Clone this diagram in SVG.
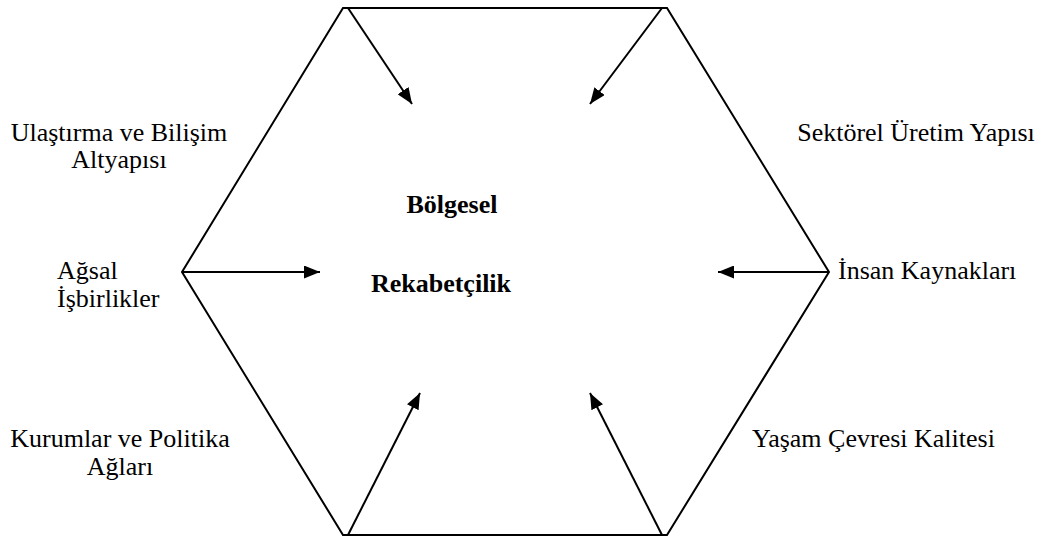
<svg xmlns="http://www.w3.org/2000/svg" width="1050" height="540" viewBox="0 0 1050 540">
<defs>
<style>
.lbl{font-family:'Liberation Serif','Times New Roman',serif;font-size:26px;fill:#000}
.ctr{font-family:'Liberation Serif','Times New Roman',serif;font-size:26px;font-weight:bold;fill:#000;text-anchor:middle}
</style>
<marker id="ah" viewBox="0 0 16 13" refX="16" refY="6.5" markerWidth="16" markerHeight="13" markerUnits="userSpaceOnUse" orient="auto">
<path d="M0,0 L16,6.5 L0,13 z" fill="#000"/>
</marker>
</defs>
<rect width="1050" height="540" fill="#fff"/>
<g id="hexagon">
<polygon points="343,8 667,8 829,272 667,535 343,535 182,272" fill="none" stroke="#000" stroke-width="2"/>
</g>
<g id="connectors" stroke="#000" stroke-width="2" marker-end="url(#ah)">
<line x1="348" y1="8" x2="412" y2="104"/>
<line x1="662" y1="8" x2="590" y2="104"/>
<line x1="182" y1="272" x2="320" y2="272"/>
<line x1="829" y1="272" x2="718" y2="272"/>
<line x1="348" y1="535" x2="420" y2="393"/>
<line x1="662" y1="535" x2="590" y2="393"/>
</g>
<g id="center">
<text class="ctr" x="452" y="213">Bölgesel</text>
<text class="ctr" x="441" y="292">Rekabetçilik</text>
</g>
<g id="n-ulastirma">
<text class="lbl" x="119" y="141" text-anchor="middle">Ulaştırma ve Bilişim</text>
<text class="lbl" x="119" y="168" text-anchor="middle">Altyapısı</text>
</g>
<g id="n-sektorel">
<text class="lbl" x="916" y="141" text-anchor="middle">Sektörel Üretim Yapısı</text>
</g>
<g id="n-agsal">
<text class="lbl" x="57" y="279">Ağsal</text>
<text class="lbl" x="57" y="307">İşbirlikler</text>
</g>
<g id="n-insan">
<text class="lbl" x="838" y="279">İnsan Kaynakları</text>
</g>
<g id="n-kurumlar">
<text class="lbl" x="120" y="447" text-anchor="middle">Kurumlar ve Politika</text>
<text class="lbl" x="120" y="475" text-anchor="middle">Ağları</text>
</g>
<g id="n-yasam">
<text class="lbl" x="752" y="447">Yaşam Çevresi Kalitesi</text>
</g>
</svg>
